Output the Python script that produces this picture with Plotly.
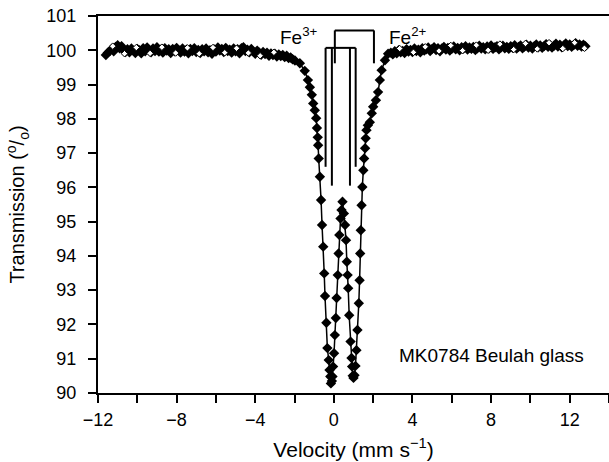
import plotly.graph_objects as go

# ---- data ----
vel_left = [-11.6, -11.5, -11.4, -11.3, -11.2, -11.1, -11.0, -10.9, -10.8, -10.7,
            -10.6, -10.5, -10.4, -10.3, -10.2, -10.1, -10.0, -9.9, -9.8, -9.7,
            -9.6, -9.5, -9.4, -9.3, -9.2, -9.1, -9.0, -8.9, -8.8, -8.7,
            -8.6, -8.5, -8.4, -8.3, -8.2, -8.1, -8.0, -7.9, -7.8, -7.7,
            -7.6, -7.5, -7.4, -7.3, -7.2, -7.1, -7.0, -6.9, -6.8, -6.7,
            -6.6, -6.5, -6.4, -6.3, -6.2, -6.1, -6.0, -5.9, -5.8, -5.7,
            -5.6, -5.5, -5.4, -5.3, -5.2, -5.1, -5.0, -4.9, -4.8, -4.7,
            -4.6, -4.5, -4.4, -4.3, -4.2, -4.1, -4.0, -3.9, -3.8, -3.7,
            -3.6, -3.5, -3.4, -3.3, -3.2, -3.1, -3.0, -2.9, -2.8, -2.7,
            -2.6, -2.5, -2.4, -2.3, -2.2, -2.1]
trans_left = [99.86, 99.93, 99.98, 100.04, 99.97, 100.10, 100.15, 100.06, 100.12, 100.01,
              99.95, 100.03, 99.94, 100.05, 99.99, 99.92, 100.04, 100.00, 99.91, 100.06,
              99.97, 100.08, 100.01, 99.94, 100.05, 99.98, 100.09, 99.96, 100.02, 99.93,
              100.06, 99.99, 100.03, 99.92, 100.04, 99.97, 100.07, 100.00, 99.93, 100.05,
              99.96, 100.02, 99.91, 100.04, 99.98, 100.06, 99.95, 100.01, 99.92, 100.03,
              99.97, 100.05, 99.94, 100.00, 99.90, 100.03, 99.96, 100.08, 99.99, 100.04,
              99.95, 100.07, 99.98, 100.02, 99.93, 100.05, 99.97, 100.03, 99.91, 100.06,
              100.09, 99.98, 100.02, 99.94, 100.04, 99.96, 99.90, 99.99, 99.93, 99.87,
              99.95, 99.89, 99.93, 99.84, 99.91, 99.86, 99.90, 99.82, 99.88, 99.83,
              99.86, 99.80, 99.84, 99.77, 99.79, 99.74]

vel_dip = [-1.98, -1.73, -1.48, -1.32, -1.22, -1.12, -1.05, -0.97, -0.90, -0.86, -0.82, -0.80, -0.77,
           -0.71, -0.65, -0.60, -0.54, -0.49, -0.45, -0.38, -0.33, -0.26, -0.22, -0.18, -0.15, -0.10,
           -0.07, -0.04, 0.01, 0.05, 0.10, 0.14, 0.20, 0.24, 0.28, 0.34, 0.39, 0.44, 0.51, 0.57, 0.62,
           0.66, 0.70, 0.73, 0.78, 0.85, 0.90, 0.93, 0.96, 1.00, 1.05, 1.10, 1.15, 1.20, 1.27, 1.31,
           1.34, 1.37, 1.41, 1.45, 1.50, 1.54, 1.59, 1.62, 1.66, 1.73, 1.83, 1.93, 2.00, 2.14, 2.25,
           2.34, 2.43, 2.60, 2.76]
trans_dip = [99.70, 99.62, 99.40, 99.13, 98.92, 98.70, 98.45, 98.25, 98.02, 97.73, 97.46, 97.23, 96.84,
             96.31, 95.63, 94.90, 94.27, 93.49, 92.83, 92.05, 91.31, 90.96, 90.67, 90.48, 90.28, 90.35,
             90.48, 90.77, 91.16, 91.69, 92.19, 92.77, 93.44, 94.07, 94.61, 95.09, 95.34, 95.58, 95.24, 94.90, 94.46,
             93.83, 93.44, 93.06, 92.27, 91.50, 91.02, 90.77, 90.50, 90.44, 90.52, 90.79, 91.25, 91.84, 92.62, 93.29,
             94.07, 94.75, 95.48, 96.01, 96.50, 96.84, 97.14, 97.43, 97.67, 97.81, 97.90, 98.16, 98.35, 98.54, 98.78,
             99.13, 99.42, 99.71, 99.90]

vel_right = [2.9, 3.0, 3.1, 3.2, 3.3, 3.4, 3.5, 3.6, 3.7, 3.8,
             3.9, 4.0, 4.1, 4.2, 4.3, 4.4, 4.5, 4.6, 4.7, 4.8,
             4.9, 5.0, 5.1, 5.2, 5.3, 5.4, 5.5, 5.6, 5.7, 5.8,
             5.9, 6.0, 6.1, 6.2, 6.3, 6.4, 6.5, 6.6, 6.7, 6.8,
             6.9, 7.0, 7.1, 7.2, 7.3, 7.4, 7.5, 7.6, 7.7, 7.8,
             7.9, 8.0, 8.1, 8.2, 8.3, 8.4, 8.5, 8.6, 8.7, 8.8,
             8.9, 9.0, 9.1, 9.2, 9.3, 9.4, 9.5, 9.6, 9.7, 9.8,
             9.9, 10.0, 10.1, 10.2, 10.3, 10.4, 10.5, 10.6, 10.7, 10.8,
             10.9, 11.0, 11.1, 11.2, 11.3, 11.4, 11.5, 11.6, 11.7, 11.8,
             11.9, 12.0, 12.1, 12.2, 12.3, 12.4, 12.5, 12.6, 12.7, 12.8]
trans_right = [99.93, 99.88, 99.97, 99.91, 100.00, 99.94, 99.98, 99.92, 100.03, 99.96,
               100.01, 99.95, 100.05, 99.98, 100.02, 99.94, 100.06, 99.99, 100.03, 100.08,
               99.98, 100.04, 100.09, 100.01, 100.06, 99.97, 100.05, 100.10, 100.02, 100.07,
               99.99, 100.04, 100.11, 100.03, 100.07, 100.00, 100.09, 100.05, 100.12, 100.02,
               100.08, 100.04, 100.10, 100.01, 100.06, 100.13, 100.05, 100.09, 100.03, 100.11,
               100.06, 100.14, 100.04, 100.09, 100.12, 100.03, 100.08, 100.13, 100.06, 100.10,
               100.04, 100.12, 100.07, 100.15, 100.05, 100.10, 100.14, 100.06, 100.11, 100.16,
               100.08, 100.13, 100.05, 100.12, 100.17, 100.09, 100.14, 100.07, 100.12, 100.18,
               100.10, 100.15, 100.08, 100.13, 100.19, 100.11, 100.16, 100.09, 100.14, 100.20,
               100.12, 100.17, 100.10, 100.15, 100.21, 100.13, 100.17, 100.11, 100.16, 100.12]

# open-diamond points scattered along the baseline
vel_open = [-11.25, -10.65, -10.05, -9.35, -8.75, -8.05, -7.45, -6.85, -6.15, -5.55, -4.95,
            -4.35, -3.75, -3.05,
            3.35, 4.05, 4.65, 5.35, 5.95, 6.55, 7.25, 7.85, 8.45, 9.15, 9.75, 10.35, 10.95,
            11.65, 12.25, 12.75]
trans_open = [100.12, 99.90, 100.08, 99.91, 100.09, 99.92, 100.07, 99.90, 100.08, 99.93, 100.06,
              99.92, 99.84, 99.94,
              100.05, 99.94, 100.10, 99.98, 100.14, 99.99, 100.15, 100.00, 100.18, 100.02, 100.20,
              100.04, 100.22, 100.05, 100.22, 100.06]

# doublet marker lines
fe3_pos = [-0.42, -0.10, 0.82, 1.11]
fe3_bottom = [96.60, 96.05, 96.05, 96.60]
fe3_top = 100.07
fe2_pos = [0.05, 2.04]
fe2_top = 100.58
fe2_bottom = 99.62

x_ticks = [-12, -8, -4, 0, 4, 8, 12]
y_ticks = [90, 91, 92, 93, 94, 95, 96, 97, 98, 99, 100, 101]

FONT = "Liberation Sans, Arial, sans-serif"

vel_all = vel_left + vel_dip + vel_right
trans_all = trans_left + trans_dip + trans_right

fig = go.Figure()
fig.add_trace(go.Scatter(
    x=vel_all, y=trans_all, mode="lines+markers",
    line=dict(color="black", width=1.5),
    marker=dict(symbol="diamond", size=8, color="black"),
    showlegend=False, hoverinfo="skip"))
fig.add_trace(go.Scatter(
    x=vel_open, y=trans_open, mode="markers",
    marker=dict(symbol="diamond", size=5, color="white", line=dict(color="black", width=1)),
    showlegend=False, hoverinfo="skip"))

shapes = []
# Fe3+ bracket
shapes.append(dict(type="line", xref="x", yref="y", x0=fe3_pos[0], x1=fe3_pos[-1],
                   y0=fe3_top, y1=fe3_top, line=dict(color="black", width=2)))
for p, b in zip(fe3_pos, fe3_bottom):
    shapes.append(dict(type="line", xref="x", yref="y", x0=p, x1=p, y0=fe3_top, y1=b,
                       line=dict(color="black", width=2)))
# Fe2+ bracket
shapes.append(dict(type="line", xref="x", yref="y", x0=fe2_pos[0], x1=fe2_pos[1],
                   y0=fe2_top, y1=fe2_top, line=dict(color="black", width=2)))
for p in fe2_pos:
    shapes.append(dict(type="line", xref="x", yref="y", x0=p, x1=p, y0=fe2_top, y1=fe2_bottom,
                       line=dict(color="black", width=2)))

annotations = [
    dict(text="Fe<sup>3+</sup>", x=-0.72, y=100.02, xref="x", yref="y", xanchor="right",
         yanchor="bottom", showarrow=False, font=dict(size=19, color="black", family=FONT)),
    dict(text="Fe<sup>2+</sup>", x=2.72, y=100.02, xref="x", yref="y", xanchor="left",
         yanchor="bottom", showarrow=False, font=dict(size=19, color="black", family=FONT)),
    dict(text="MK0784 Beulah glass", x=8.0, y=91.1, xref="x", yref="y", xanchor="center",
         yanchor="middle", showarrow=False, font=dict(size=19, color="black", family=FONT)),
]

fig.update_layout(
    width=609, height=462,
    margin=dict(l=98, r=0, t=16, b=69),
    paper_bgcolor="white", plot_bgcolor="white",
    font=dict(family=FONT, color="black"),
    shapes=shapes, annotations=annotations,
    xaxis=dict(range=[-12, 14], tickvals=x_ticks,
               ticktext=[("\u2212" + str(-v)) if v < 0 else str(v) for v in x_ticks],
               showline=True, linecolor="black", linewidth=2, mirror=True,
               ticks="outside", ticklen=8, tickwidth=2, tickcolor="black",
               minor=dict(dtick=2, tick0=0, ticks="outside", ticklen=8, tickwidth=2,
                          tickcolor="black", showgrid=False),
               showgrid=False, zeroline=False, tickfont=dict(size=18, color="black"),
               ticklabelstandoff=1,
               title=dict(text="Velocity (mm s<sup>\u22121</sup>)", font=dict(size=21, color="black"),
                          standoff=14)),
    yaxis=dict(range=[90, 101], tickvals=y_ticks,
               showline=True, linecolor="black", linewidth=2, mirror=False,
               ticks="outside", ticklen=8, tickwidth=2, tickcolor="black",
               showgrid=False, zeroline=False, tickfont=dict(size=18, color="black"),
               ticklabelstandoff=8,
               title=dict(text="Transmission (<sup>o</sup>/<sub>o</sub>)", font=dict(size=20, color="black"),
                          standoff=16)),
)

fig.write_html("out.html", post_script="document.body.style.margin='0px';",
               config={"displayModeBar": False})
